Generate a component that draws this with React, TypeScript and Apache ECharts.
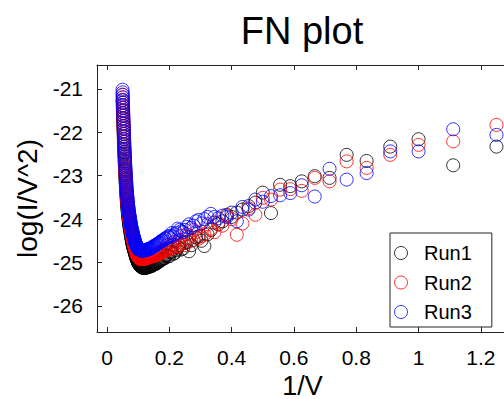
import React, { useEffect, useRef } from "react";
import * as echarts from "echarts";

// 1/V values (voltage sweep 0.8 V ... 20 V; last block: odd-tenth steps 3.1 ... 9.9 V)
const invV = [
  1.25, 1.1111, 1.0, 0.9091, 0.8333, 0.7692, 0.7143, 0.6667, 0.625, 0.5882,
  0.5556, 0.5263, 0.5, 0.4762, 0.4545, 0.4348, 0.4167, 0.4, 0.3846, 0.3704,
  0.3571, 0.3448, 0.3333, 0.3125, 0.2941, 0.2778, 0.2632, 0.25, 0.2381, 0.2273,
  0.2174, 0.2083, 0.2, 0.1923, 0.1852, 0.1786, 0.1724, 0.1667, 0.1613, 0.1563,
  0.1515, 0.1471, 0.1429, 0.1389, 0.1351, 0.1316, 0.1282, 0.125, 0.122, 0.119,
  0.1163, 0.1136, 0.1111, 0.1087, 0.1064, 0.1042, 0.102,
  0.1, 0.099, 0.098, 0.0971, 0.0962, 0.0952, 0.0943, 0.0935, 0.0926, 0.0917,
  0.0909, 0.0901, 0.0893, 0.0885, 0.0877, 0.087, 0.0862, 0.0855, 0.0847, 0.084,
  0.0833, 0.0826, 0.082, 0.0813, 0.0806, 0.08, 0.0794, 0.0787, 0.0781, 0.0775,
  0.0769, 0.0763, 0.0758, 0.0752, 0.0746, 0.0741, 0.0735, 0.073, 0.0725, 0.0719,
  0.0714, 0.0709, 0.0704, 0.0699, 0.0694, 0.069, 0.0685, 0.068, 0.0676, 0.0671,
  0.0667, 0.0662, 0.0658, 0.0654, 0.0649, 0.0645, 0.0641, 0.0637, 0.0633, 0.0629,
  0.0625, 0.0621, 0.0617, 0.0613, 0.061, 0.0606, 0.0602, 0.0599, 0.0595, 0.0592,
  0.0588, 0.0585, 0.0581, 0.0578, 0.0575, 0.0571, 0.0568, 0.0565, 0.0562, 0.0559,
  0.0556, 0.0552, 0.0549, 0.0546, 0.0543, 0.0541, 0.0538, 0.0535, 0.0532, 0.0529,
  0.0526, 0.0524, 0.0521, 0.0518, 0.0515, 0.0513, 0.051, 0.0508, 0.0505, 0.0503,
  0.05,
  0.3226, 0.303, 0.2857, 0.2703, 0.2564, 0.2439, 0.2326, 0.2222, 0.2128, 0.2041,
  0.1961, 0.1887, 0.1818, 0.1754, 0.1695, 0.1639, 0.1587, 0.1538, 0.1493, 0.1449,
  0.1408, 0.137, 0.1333, 0.1299, 0.1266, 0.1235, 0.1205, 0.1176, 0.1149, 0.1124,
  0.1099, 0.1075, 0.1053, 0.1031, 0.101,
];

const run1 = [
  -22.33, -22.76, -22.16, -22.33, -22.66, -22.52, -23.05, -23.01, -23.13, -23.24,
  -23.21, -23.86, -23.39, -23.62, -23.7, -23.78, -23.85, -23.95, -23.9, -24.05,
  -24.12, -24.08, -24.25, -24.62, -24.4, -24.48, -24.74, -24.55, -24.7, -24.65,
  -24.78, -24.75, -24.85, -24.82, -24.9, -24.92, -24.95, -24.98, -25.0, -25.03,
  -25.04, -25.06, -25.08, -25.08, -25.1, -25.1, -25.11, -25.12, -25.12, -25.12,
  -25.12, -25.11, -25.1, -25.09, -25.07, -25.05, -25.03,
  -25.0, -24.99, -24.97, -24.95, -24.94, -24.91, -24.9, -24.87, -24.86, -24.83,
  -24.82, -24.79, -24.77, -24.76, -24.73, -24.71, -24.69, -24.68, -24.66, -24.63,
  -24.62, -24.59, -24.57, -24.55, -24.52, -24.5, -24.47, -24.45, -24.42, -24.4,
  -24.37, -24.35, -24.32, -24.3, -24.27, -24.24, -24.22, -24.2, -24.17, -24.14,
  -24.12, -24.1, -24.07, -24.04, -24.01, -23.98, -23.95, -23.92, -23.89, -23.86,
  -23.83, -23.8, -23.76, -23.73, -23.69, -23.66, -23.62, -23.58, -23.54, -23.5,
  -23.46, -23.42, -23.37, -23.33, -23.28, -23.24, -23.19, -23.15, -23.1, -23.05,
  -23.0, -22.95, -22.9, -22.85, -22.79, -22.74, -22.68, -22.63, -22.57, -22.52,
  -22.46, -22.4, -22.34, -22.28, -22.22, -22.16, -22.1, -22.04, -21.98, -21.92,
  -21.86, -21.8, -21.74, -21.68, -21.62, -21.56, -21.5, -21.44, -21.38, -21.32,
  -21.26,
  -24.35, -24.5, -24.42, -24.6, -24.52, -24.68, -24.6, -24.72, -24.8, -24.76,
  -24.86, -24.85, -24.9, -24.93, -24.96, -24.99, -25.02, -25.03, -25.05, -25.07,
  -25.08, -25.09, -25.1, -25.11, -25.11, -25.12, -25.12, -25.12, -25.12, -25.11,
  -25.1, -25.08, -25.06, -25.04, -25.02,
];

const run2 = [
  -21.83, -22.21, -22.29, -22.52, -22.82, -22.67, -23.13, -23.05, -23.35, -23.31,
  -23.32, -23.55, -23.51, -23.9, -23.75, -24.1, -24.36, -24.0, -23.92, -24.15,
  -24.08, -24.3, -24.22, -24.35, -24.45, -24.25, -24.42, -24.6, -24.38, -24.62,
  -24.52, -24.66, -24.7, -24.6, -24.74, -24.7, -24.78, -24.8, -24.81, -24.83,
  -24.84, -24.85, -24.86, -24.87, -24.88, -24.89, -24.9, -24.9, -24.91, -24.91,
  -24.92, -24.92, -24.92, -24.92, -24.91, -24.9, -24.89,
  -24.87, -24.86, -24.85, -24.83, -24.82, -24.8, -24.78, -24.76, -24.74, -24.72,
  -24.7, -24.68, -24.66, -24.64, -24.62, -24.59, -24.57, -24.55, -24.52, -24.5,
  -24.47, -24.45, -24.43, -24.4, -24.38, -24.36, -24.34, -24.31, -24.29, -24.26,
  -24.24, -24.21, -24.19, -24.16, -24.14, -24.11, -24.09, -24.06, -24.04, -24.01,
  -23.99, -23.96, -23.94, -23.91, -23.88, -23.85, -23.82, -23.79, -23.76, -23.73,
  -23.7, -23.66, -23.63, -23.59, -23.56, -23.52, -23.49, -23.45, -23.41, -23.37,
  -23.33, -23.28, -23.24, -23.19, -23.15, -23.1, -23.06, -23.01, -22.97, -22.92,
  -22.87, -22.82, -22.77, -22.71, -22.66, -22.6, -22.55, -22.49, -22.44, -22.38,
  -22.33, -22.27, -22.21, -22.15, -22.09, -22.03, -21.97, -21.91, -21.85, -21.79,
  -21.73, -21.67, -21.61, -21.55, -21.49, -21.43, -21.37, -21.31, -21.25, -21.19,
  -21.13,
  -24.12, -24.4, -24.3, -24.5, -24.35, -24.55, -24.48, -24.65, -24.58, -24.68,
  -24.66, -24.72, -24.73, -24.75, -24.77, -24.8, -24.82, -24.83, -24.84, -24.85,
  -24.86, -24.87, -24.88, -24.89, -24.9, -24.9, -24.91, -24.91, -24.92, -24.92,
  -24.92, -24.92, -24.91, -24.9, -24.88,
];

const run3 = [
  -22.06, -21.93, -22.44, -22.44, -22.94, -23.09, -22.84, -23.48, -23.22, -23.4,
  -23.45, -23.47, -23.6, -23.55, -23.78, -23.72, -24.05, -23.85, -23.95, -23.92,
  -23.98, -23.95, -23.88, -24.0, -24.02, -24.15, -24.12, -24.25, -24.28, -24.22,
  -24.35, -24.32, -24.42, -24.42, -24.45, -24.5, -24.52, -24.55, -24.58, -24.6,
  -24.62, -24.64, -24.66, -24.68, -24.69, -24.7, -24.7, -24.71, -24.71, -24.72,
  -24.72, -24.72, -24.72, -24.72, -24.71, -24.7, -24.69,
  -24.68, -24.67, -24.66, -24.64, -24.63, -24.61, -24.6, -24.58, -24.57, -24.55,
  -24.54, -24.52, -24.5, -24.48, -24.46, -24.44, -24.42, -24.4, -24.38, -24.36,
  -24.34, -24.32, -24.3, -24.28, -24.26, -24.24, -24.22, -24.2, -24.18, -24.15,
  -24.13, -24.1, -24.08, -24.05, -24.03, -24.0, -23.98, -23.95, -23.93, -23.9,
  -23.88, -23.85, -23.83, -23.8, -23.77, -23.74, -23.71, -23.68, -23.65, -23.62,
  -23.59, -23.55, -23.52, -23.48, -23.45, -23.41, -23.38, -23.34, -23.3, -23.26,
  -23.22, -23.17, -23.13, -23.08, -23.04, -22.99, -22.95, -22.9, -22.86, -22.81,
  -22.76, -22.71, -22.66, -22.6, -22.55, -22.49, -22.44, -22.38, -22.33, -22.27,
  -22.22, -22.16, -22.1, -22.04, -21.98, -21.92, -21.86, -21.8, -21.74, -21.68,
  -21.62, -21.56, -21.5, -21.44, -21.38, -21.32, -21.26, -21.2, -21.14, -21.08,
  -21.02,
  -23.95, -24.1, -24.05, -24.2, -24.18, -24.3, -24.25, -24.32, -24.4, -24.38,
  -24.4, -24.45, -24.48, -24.5, -24.54, -24.56, -24.59, -24.61, -24.63, -24.65,
  -24.67, -24.68, -24.69, -24.7, -24.71, -24.71, -24.72, -24.72, -24.72, -24.72,
  -24.72, -24.71, -24.7, -24.7, -24.69,
];

const seriesNames = ["Run1", "Run2", "Run3"];
const seriesColors = ["#000000", "#ff0000", "#0000ff"];
const seriesValues = [run1, run2, run3];

const FONT = "'Liberation Sans', Arial, Helvetica, sans-serif";
const AXIS_COLOR = "#262626";

export default function App() {
  const ref = useRef<HTMLDivElement>(null);

  useEffect(() => {
    if (!ref.current) return;
    const chart = echarts.init(ref.current, null, { renderer: "svg" });

    const xCommon = {
      type: "value" as const,
      min: -0.032,
      max: 1.287,
      splitNumber: 6,
      splitLine: { show: false },
      axisLine: { show: true, onZero: false, lineStyle: { color: AXIS_COLOR, width: 1 } },
      axisTick: { show: true, inside: true, length: 5, lineStyle: { color: AXIS_COLOR } },
    };

    chart.setOption({
      animation: false,
      backgroundColor: "#ffffff",
      textStyle: { fontFamily: FONT },
      grid: {
        left: 97,
        top: 65,
        right: 12,
        bottom: 67,
        containLabel: false,
        outerBoundsMode: "none",
      },
      graphic: [
        {
          type: "text",
          x: 302,
          y: 31,
          style: {
            text: "FN plot",
            fontSize: 38,
            fontFamily: FONT,
            fill: "#000",
            align: "center",
            verticalAlign: "middle",
          },
        },
      ],
      xAxis: [
        {
          ...xCommon,
          position: "bottom",
          name: "1/V",
          nameLocation: "middle",
          nameGap: 35,
          nameTextStyle: { fontSize: 27, color: "#000", fontFamily: FONT },
          axisLabel: {
            show: true,
            fontSize: 21,
            color: "#000",
            fontFamily: FONT,
            margin: 15,
            showMinLabel: false,
            showMaxLabel: false,
          },
        },
        {
          ...xCommon,
          position: "top",
          axisLabel: { show: false },
        },
      ],
      yAxis: [
        {
          type: "value",
          min: -26.6,
          max: -20.45,
          splitNumber: 5,
          position: "left",
          splitLine: { show: false },
          axisLine: { show: true, onZero: false, lineStyle: { color: AXIS_COLOR, width: 1 } },
          axisTick: { show: true, inside: true, length: 5, lineStyle: { color: AXIS_COLOR } },
          axisLabel: {
            show: true,
            fontSize: 21,
            color: "#000",
            fontFamily: FONT,
            margin: 14,
            showMinLabel: false,
            showMaxLabel: false,
          },
          name: "log(I/V^2)",
          nameLocation: "middle",
          nameGap: 52,
          nameRotate: 90,
          nameTextStyle: { fontSize: 28, color: "#000", fontFamily: FONT },
        },
      ],
      legend: {
        show: true,
        orient: "vertical",
        left: 390,
        top: 233,
        itemWidth: 36,
        itemHeight: 13,
        itemGap: 9.5,
        padding: [10, 20, 5, 2],
        backgroundColor: "#ffffff",
        borderColor: AXIS_COLOR,
        borderWidth: 1,
        borderRadius: 0,
        selectedMode: false,
        textStyle: { fontSize: 20, color: "#000", fontFamily: FONT },
        data: seriesNames.map((name, i) => ({
          name,
          icon: "circle",
          itemStyle: { color: "none", borderColor: seriesColors[i], borderWidth: 1 },
        })),
      },
      series: seriesNames.map((name, i) => ({
        name,
        type: "scatter",
        xAxisIndex: 0,
        yAxisIndex: 0,
        symbol: "circle",
        symbolSize: 13,
        silent: true,
        itemStyle: {
          color: "none",
          borderColor: seriesColors[i],
          borderWidth: 1,
        },
        data: invV.map((x, j) => [x, seriesValues[i][j]]),
      })),
    });

    return () => {
      chart.dispose();
    };
  }, []);

  return (
    <div
      style={{
        position: "fixed",
        left: 0,
        top: 0,
        width: 504,
        height: 399,
        overflow: "hidden",
        background: "#fff",
      }}
    >
      <div ref={ref} style={{ width: 520, height: 399 }} />
    </div>
  );
}
